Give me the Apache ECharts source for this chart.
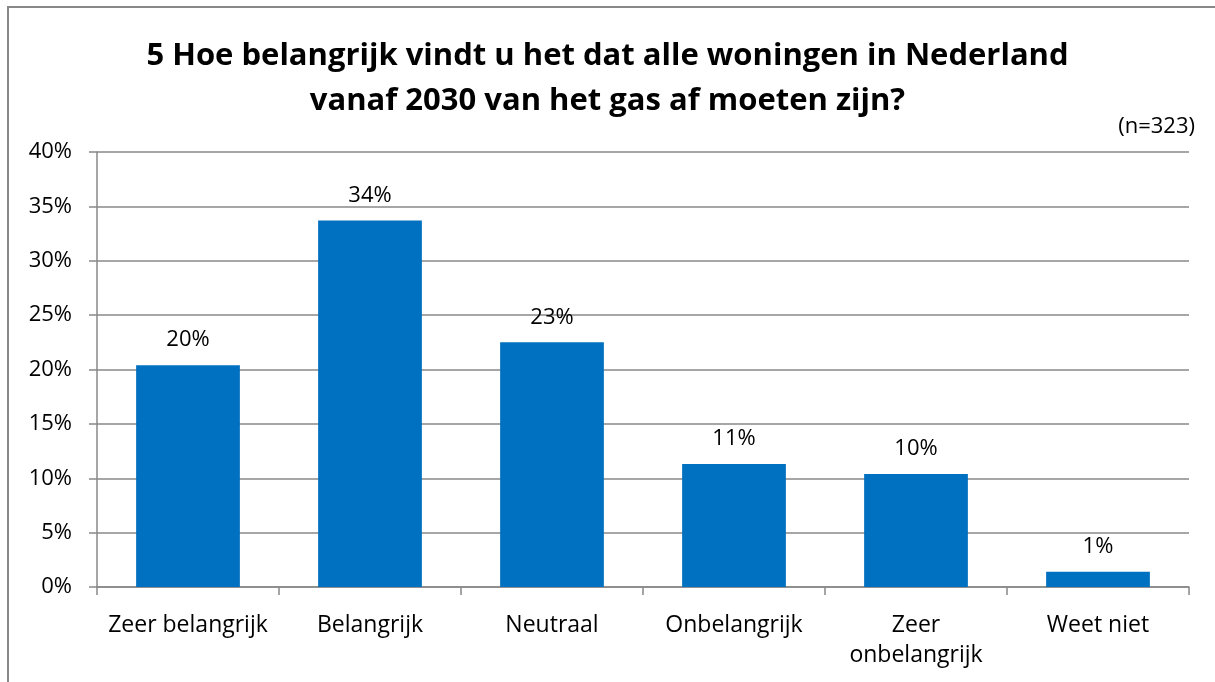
<!DOCTYPE html>
<html>
<head>
<meta charset="utf-8">
<script src="https://cdn.jsdelivr.net/npm/echarts@6/dist/echarts.min.js"></script>
<style>
html,body{margin:0;padding:0;background:#fff;}
#chart{width:1215px;height:682px;}
</style>
</head>
<body>
<div id="chart"></div>
<script>
// categorieen en percentages
let categories=["Zeer belangrijk","Belangrijk","Neutraal","Onbelangrijk","Zeer\nonbelangrijk","Weet niet"];
let values=[20.4,33.7,22.5,11.3,10.4,1.4];
let yTicks=[0,5,10,15,20,25,30,35,40];

let titleText="5 Hoe belangrijk vindt u het dat alle woningen in Nederland\nvanaf 2030 van het gas af moeten zijn?";
let noteText="(n=323)";

let myChart=echarts.init(document.getElementById("chart"));
let font="'Open Sans', Lato, sans-serif";

let option={
    animation:false,
    textStyle:{fontFamily:font},
    title:[{
        text:titleText,
        left:"center",
        top:29,
        padding:[5,0,5,12],
        textStyle:{fontSize:31,fontWeight:"bold",color:"#000",lineHeight:45,fontFamily:font}
    },{
        text:noteText,
        right:15,
        top:111,
        textStyle:{fontSize:22,fontWeight:"normal",color:"#000",fontFamily:font}
    }],
    graphic:[{
        type:"rect",
        shape:{x:8,y:7,width:1400,height:900},
        style:{fill:"none",stroke:"#888",lineWidth:2},
        silent:true
    }],
    grid:{left:97,right:26,top:152,bottom:95},
    xAxis:{
        type:"category",
        data:categories,
        axisLine:{lineStyle:{color:"#888",width:1.5}},
        axisTick:{show:true,length:8,alignWithLabel:false,lineStyle:{color:"#888",width:1.5}},
        axisLabel:{fontSize:23,color:"#000",margin:23,lineHeight:30,interval:0,fontFamily:font}
    },
    yAxis:{
        type:"value",
        min:yTicks[0],
        max:yTicks[yTicks.length-1],
        interval:5,
        axisLine:{show:true,lineStyle:{color:"#888",width:1.5}},
        axisTick:{show:true,length:8,lineStyle:{color:"#888",width:1.5}},
        splitLine:{lineStyle:{color:"#888",width:1.5}},
        axisLabel:{fontSize:22,color:"#000",margin:25,formatter:"{value}%",fontFamily:font}
    },
    series:[{
        type:"bar",
        data:values,
        barWidth:"57%",
        itemStyle:{color:"#0070C0"},
        label:{
            show:true,
            position:"top",
            distance:14,
            fontSize:22,
            color:"#000",
            fontFamily:font,
            formatter:function(p){return Math.round(p.value)+"%";}
        }
    }]
};
myChart.setOption(option);
</script>
</body>
</html>
